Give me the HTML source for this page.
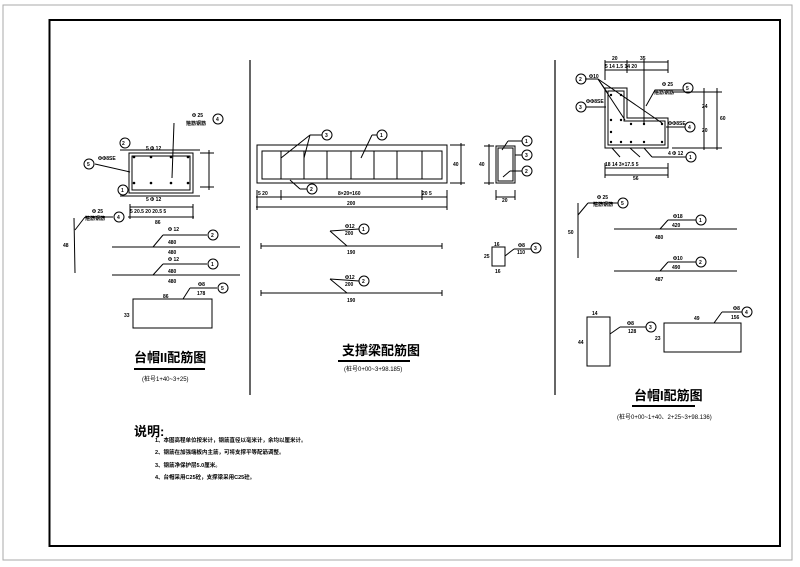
<!DOCTYPE html>
<html><head><meta charset="utf-8"><style>
html,body{margin:0;padding:0;background:#fff;}
svg{display:block;font-family:"Liberation Sans","Noto Sans CJK SC",sans-serif;}
text{fill:#000;}
.s text{font-weight:bold;}
</style></head><body>
<svg width="800" height="567" viewBox="0 0 800 567" xmlns="http://www.w3.org/2000/svg">
<rect x="3" y="5" width="789" height="555" fill="none" stroke="#aaa" stroke-width="1"/>
<rect x="49.5" y="20" width="730.5" height="526" fill="none" stroke="#000" stroke-width="2"/>
<g stroke="#000" stroke-width="1.2" fill="none">
<line x1="250" y1="60" x2="250" y2="395"/>
<line x1="555" y1="60" x2="555" y2="395"/>
</g>

<!-- LEFT -->
<g stroke="#000" stroke-width="1" fill="none">
<rect x="129" y="153" width="64" height="40"/>
<rect x="132" y="156" width="58" height="34"/>
<line x1="120" y1="150" x2="200" y2="150"/>
<line x1="120" y1="196" x2="200" y2="196"/>
<line x1="200" y1="153" x2="214" y2="153"/><line x1="200" y1="187" x2="214" y2="187"/><line x1="209" y1="150" x2="209" y2="190"/>
<line x1="130" y1="207" x2="193" y2="207"/><line x1="128" y1="217" x2="194" y2="217"/>
<line x1="130" y1="204" x2="130" y2="219"/><line x1="193" y1="204" x2="193" y2="219"/>
<line x1="174" y1="123" x2="172" y2="178"/>
<line x1="95" y1="164" x2="130" y2="172"/>
<line x1="74" y1="218" x2="75" y2="273"/><line x1="75" y1="230" x2="85" y2="217" /><line x1="85" y1="217" x2="113" y2="217"/>
<line x1="112" y1="247" x2="240" y2="247"/><line x1="153" y1="247" x2="163" y2="235"/><line x1="163" y1="235" x2="207" y2="235"/>
<line x1="112" y1="275" x2="240" y2="275"/><line x1="153" y1="275" x2="163" y2="264"/><line x1="163" y1="264" x2="207" y2="264"/>
<rect x="133" y="299" width="79" height="29"/>
<line x1="183" y1="299" x2="190" y2="288"/><line x1="190" y1="288" x2="217" y2="288"/>
<circle cx="125" cy="143" r="5"/><circle cx="123" cy="190" r="5"/><circle cx="89" cy="164" r="5"/><circle cx="218" cy="119" r="5"/>
<circle cx="119" cy="217" r="5"/><circle cx="213" cy="235" r="5"/><circle cx="213" cy="264" r="5"/><circle cx="223" cy="288" r="5"/>
</g>
<g fill="#000">
<circle cx="134" cy="157" r="1.3"/><circle cx="151" cy="157" r="1.3"/><circle cx="171" cy="157" r="1.3"/><circle cx="188" cy="157" r="1.3"/>
<circle cx="134" cy="183" r="1.3"/><circle cx="151" cy="183" r="1.3"/><circle cx="171" cy="183" r="1.3"/><circle cx="188" cy="183" r="1.3"/>
</g>
<g font-size="5" class="s">
<text x="122" y="145">2</text><text x="121" y="192">1</text><text x="87" y="166">5</text><text x="216" y="121">4</text>
<text x="117" y="219">4</text><text x="211" y="237">2</text><text x="211" y="266">1</text><text x="221" y="290">5</text>
<text x="146" y="150">5 Φ 12</text><text x="146" y="201">5 Φ 12</text><text x="98" y="160">ΦΦ8SE</text>
<text x="192" y="117">Φ 25</text><text x="186" y="125">箍筋钢筋</text>
<text x="130" y="213">5  20.5    20    20.5  5</text><text x="155" y="224">86</text>
<text x="92" y="213">Φ 25</text><text x="85" y="220">箍筋钢筋</text><text x="63" y="247">48</text>
<text x="168" y="231">Φ 12</text><text x="168" y="244">480</text><text x="168" y="254">480</text>
<text x="168" y="261">Φ 12</text><text x="168" y="273">480</text><text x="168" y="283">480</text>
<text x="198" y="286">Φ8</text><text x="197" y="295">178</text><text x="163" y="298">86</text><text x="124" y="317">33</text>
</g>
<text x="134" y="362" font-size="13" font-weight="bold">台帽II配筋图</text>
<line x1="134" y1="369" x2="205" y2="369" stroke="#000" stroke-width="2"/>
<text x="142" y="381" font-size="6">(桩号1+40~3+25)</text>

<!-- MIDDLE -->
<g stroke="#000" stroke-width="1" fill="none">
<rect x="257" y="145" width="190" height="38"/>
<rect x="262" y="151" width="180" height="28"/>
<line x1="281" y1="151" x2="281" y2="179"/><line x1="304" y1="151" x2="304" y2="179"/><line x1="327" y1="151" x2="327" y2="179"/><line x1="351" y1="151" x2="351" y2="179"/><line x1="374" y1="151" x2="374" y2="179"/><line x1="397" y1="151" x2="397" y2="179"/><line x1="422" y1="151" x2="422" y2="179"/>
<line x1="256" y1="197" x2="447" y2="197"/><line x1="256" y1="207" x2="447" y2="207"/>
<line x1="257" y1="190" x2="257" y2="210"/><line x1="447" y1="190" x2="447" y2="210"/><line x1="281" y1="190" x2="281" y2="200"/><line x1="422" y1="190" x2="422" y2="200"/>
<line x1="450" y1="145" x2="465" y2="145"/><line x1="450" y1="183" x2="465" y2="183"/><line x1="461" y1="143" x2="461" y2="185"/>
<line x1="281" y1="158" x2="310" y2="135"/><line x1="304" y1="158" x2="310" y2="135"/><line x1="310" y1="135" x2="322" y2="135"/>
<line x1="361" y1="158" x2="372" y2="135"/><line x1="372" y1="135" x2="377" y2="135"/>
<line x1="290" y1="180" x2="300" y2="189"/><line x1="300" y1="189" x2="307" y2="189"/>
<rect x="496" y="146" width="19" height="37"/><rect x="498" y="148" width="15" height="33"/>
<line x1="484" y1="146" x2="494" y2="146"/><line x1="484" y1="183" x2="494" y2="183"/><line x1="489" y1="144" x2="489" y2="185"/>
<line x1="496" y1="197" x2="515" y2="197"/><line x1="496" y1="190" x2="496" y2="200"/><line x1="515" y1="190" x2="515" y2="200"/>
<line x1="502" y1="150" x2="508" y2="141"/><line x1="508" y1="141" x2="522" y2="141"/><line x1="515" y1="155" x2="522" y2="155"/>
<line x1="503" y1="177" x2="510" y2="171"/><line x1="510" y1="171" x2="522" y2="171"/>
<line x1="261" y1="246" x2="442" y2="246"/><line x1="261" y1="243" x2="261" y2="249"/><line x1="442" y1="243" x2="442" y2="249"/>
<line x1="330" y1="231" x2="347" y2="246"/><line x1="330" y1="231" x2="359" y2="229"/>
<line x1="261" y1="293" x2="442" y2="293"/><line x1="261" y1="290" x2="261" y2="296"/><line x1="442" y1="290" x2="442" y2="296"/>
<line x1="330" y1="279" x2="347" y2="293"/><line x1="330" y1="279" x2="359" y2="281"/>
<rect x="492" y="247" width="13" height="19"/>
<line x1="505" y1="256" x2="514" y2="249"/><line x1="514" y1="249" x2="531" y2="249"/>
<circle cx="327" cy="135" r="5"/><circle cx="382" cy="135" r="5"/><circle cx="312" cy="189" r="5"/>
<circle cx="527" cy="141" r="5"/><circle cx="527" cy="155" r="5"/><circle cx="527" cy="171" r="5"/>
<circle cx="364" cy="229" r="5"/><circle cx="364" cy="281" r="5"/><circle cx="536" cy="248" r="5"/>
</g>
<g font-size="5" class="s">
<text x="325" y="137">3</text><text x="380" y="137">1</text><text x="310" y="191">2</text>
<text x="525" y="143">1</text><text x="525" y="157">3</text><text x="525" y="173">2</text>
<text x="362" y="231">1</text><text x="362" y="283">2</text><text x="534" y="250">3</text>
<text x="258" y="195">5  20</text><text x="338" y="195">8×20=160</text><text x="422" y="195">20  5</text><text x="347" y="205">200</text>
<text x="453" y="166">40</text><text x="479" y="166">40</text><text x="502" y="202">20</text>
<text x="345" y="228">Φ12</text><text x="345" y="235">200</text><text x="347" y="254">190</text>
<text x="345" y="279">Φ12</text><text x="345" y="286">200</text><text x="347" y="302">190</text>
<text x="494" y="246">16</text><text x="484" y="258">25</text><text x="495" y="273">16</text><text x="518" y="247">Φ8</text><text x="517" y="254">110</text>
</g>
<text x="342" y="355" font-size="13" font-weight="bold">支撑梁配筋图</text>
<line x1="338" y1="361" x2="410" y2="361" stroke="#000" stroke-width="2"/>
<text x="344" y="371" font-size="6">(桩号0+00~3+98.185)</text>

<!-- RIGHT -->
<g stroke="#000" stroke-width="1" fill="none">
<polygon points="605,88 627,88 627,118 668,118 668,148 605,148"/>
<polygon points="608,91 624,91 624,121 665,121 665,145 608,145"/>
<line x1="605" y1="70" x2="668" y2="70"/><line x1="605" y1="62" x2="668" y2="62"/><line x1="605" y1="60" x2="605" y2="80"/><line x1="627" y1="60" x2="627" y2="73"/><line x1="668" y1="60" x2="668" y2="73"/>
<line x1="644" y1="60" x2="644" y2="125"/>
<line x1="672" y1="92" x2="722" y2="92"/><line x1="672" y1="148" x2="722" y2="148"/><line x1="717" y1="88" x2="717" y2="150"/><line x1="704" y1="88" x2="704" y2="150"/>
<line x1="605" y1="168" x2="668" y2="168"/><line x1="605" y1="175" x2="668" y2="175"/><line x1="605" y1="163" x2="605" y2="178"/><line x1="668" y1="163" x2="668" y2="178"/>
<line x1="585" y1="79" x2="598" y2="79"/><line x1="598" y1="79" x2="607" y2="92"/><line x1="598" y1="79" x2="662" y2="123"/><line x1="598" y1="79" x2="625" y2="120"/>
<line x1="586" y1="107" x2="606" y2="107"/>
<line x1="646" y1="106" x2="655" y2="90"/><line x1="655" y1="90" x2="683" y2="90"/>
<line x1="666" y1="127" x2="685" y2="127"/>
<line x1="612" y1="148" x2="620" y2="157"/><line x1="630" y1="148" x2="640" y2="157"/><line x1="644" y1="148" x2="652" y2="157"/><line x1="652" y1="157" x2="686" y2="157"/>
<line x1="578" y1="203" x2="578" y2="258"/><line x1="578" y1="215" x2="588" y2="203"/><line x1="588" y1="203" x2="618" y2="203"/>
<line x1="614" y1="229" x2="737" y2="229"/><line x1="660" y1="229" x2="668" y2="220"/><line x1="668" y1="220" x2="696" y2="220"/>
<line x1="614" y1="271" x2="737" y2="271"/><line x1="660" y1="271" x2="668" y2="262"/><line x1="668" y1="262" x2="696" y2="262"/>
<rect x="587" y="317" width="23" height="49"/>
<line x1="610" y1="334" x2="620" y2="327"/><line x1="620" y1="327" x2="646" y2="327"/>
<rect x="664" y="323" width="77" height="29"/>
<line x1="714" y1="323" x2="722" y2="312"/><line x1="722" y1="312" x2="742" y2="312"/>
<circle cx="581" cy="79" r="5"/><circle cx="581" cy="107" r="5"/><circle cx="688" cy="88" r="5"/><circle cx="690" cy="127" r="5"/><circle cx="691" cy="157" r="5"/>
<circle cx="623" cy="203" r="5"/><circle cx="701" cy="220" r="5"/><circle cx="701" cy="262" r="5"/><circle cx="651" cy="327" r="5"/><circle cx="747" cy="312" r="5"/>
</g>
<g fill="#000">
<circle cx="611" cy="95" r="1.2"/><circle cx="611" cy="120" r="1.2"/><circle cx="611" cy="132" r="1.2"/><circle cx="611" cy="142" r="1.2"/>
<circle cx="621" cy="95" r="1.2"/><circle cx="621" cy="120" r="1.2"/><circle cx="631" cy="124" r="1.2"/><circle cx="644" cy="124" r="1.2"/><circle cx="662" cy="124" r="1.2"/>
<circle cx="621" cy="142" r="1.2"/><circle cx="631" cy="142" r="1.2"/><circle cx="644" cy="142" r="1.2"/><circle cx="662" cy="142" r="1.2"/>
</g>
<g font-size="5" class="s">
<text x="579" y="81">2</text><text x="579" y="109">3</text><text x="686" y="90">5</text><text x="688" y="129">4</text><text x="689" y="159">1</text>
<text x="621" y="205">5</text><text x="699" y="222">1</text><text x="699" y="264">2</text><text x="649" y="329">3</text><text x="745" y="314">4</text>
<text x="612" y="60">20</text><text x="640" y="60">35</text><text x="605" y="68">5 14 1.5  14    20</text>
<text x="589" y="78">Φ10</text><text x="586" y="103">ΦΦ8SE</text><text x="662" y="86">Φ 25</text><text x="654" y="94">箍筋钢筋</text><text x="668" y="125">ΦΦ8SE</text><text x="668" y="155">4 Φ 12</text>
<text x="702" y="108">24</text><text x="702" y="132">20</text><text x="720" y="120">60</text>
<text x="605" y="166">18  14   3×17.5  5</text><text x="633" y="180">56</text>
<text x="597" y="199">Φ 25</text><text x="593" y="206">箍筋钢筋</text><text x="568" y="234">50</text>
<text x="673" y="218">Φ18</text><text x="672" y="227">420</text><text x="655" y="239">480</text>
<text x="673" y="260">Φ10</text><text x="672" y="269">490</text><text x="655" y="281">487</text>
<text x="592" y="315">14</text><text x="578" y="344">44</text><text x="627" y="325">Φ8</text><text x="628" y="333">128</text>
<text x="694" y="320">49</text><text x="655" y="340">23</text><text x="733" y="310">Φ8</text><text x="731" y="319">156</text>
</g>
<text x="634" y="400" font-size="13" font-weight="bold">台帽I配筋图</text>
<line x1="632" y1="406" x2="695" y2="406" stroke="#000" stroke-width="2"/>
<text x="617" y="419" font-size="6">(桩号0+00~1+40、2+25~3+98.136)</text>

<!-- NOTES -->
<text x="134" y="436" font-size="13" font-weight="bold">说明:</text>
<g font-size="5.5" class="s">
<text x="155" y="442">1、本图高程单位按米计，钢筋直径以毫米计，余均以厘米计。</text>
<text x="155" y="454">2、钢筋在加强端板内主筋，可将支撑平等配筋调整。</text>
<text x="155" y="467">3、钢筋净保护层5.0厘米。</text>
<text x="155" y="479">4、台帽采用C25砼，支撑梁采用C25砼。</text>
</g>
</svg>
</body></html>
